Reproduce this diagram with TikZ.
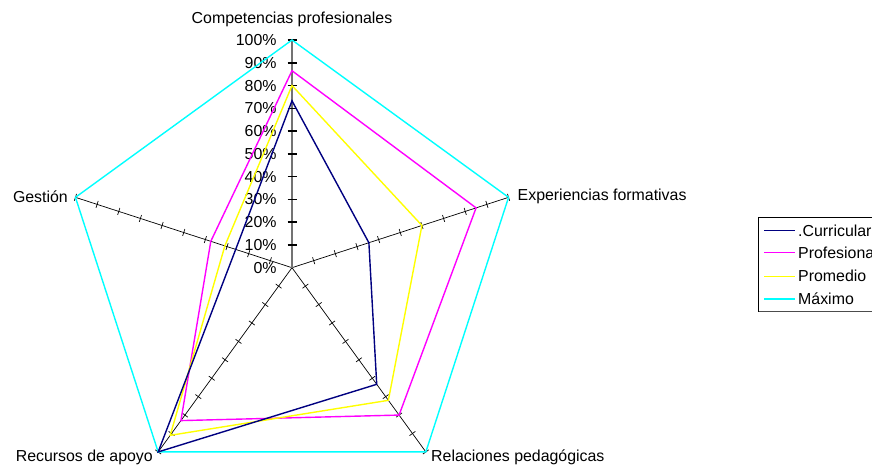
\documentclass[tikz,border=0pt]{standalone}
\usepackage{fontspec}
\setmainfont{Liberation Sans}
\definecolor{navyc}{RGB}{0,0,128}
\definecolor{magc}{RGB}{255,0,255}
\definecolor{yelc}{RGB}{255,255,0}
\definecolor{cyac}{RGB}{0,255,255}
\begin{document}
\begin{tikzpicture}[x=1pt,y=1pt,
  lbl/.style={font=\fontsize{15.9}{18}\selectfont, inner sep=0pt},
  axisline/.style={black, line width=0.7pt},
  mainaxis/.style={black!55, line width=1.4pt},
  maintick/.style={black, line width=1.6pt},
  serie/.style={line width=1.4pt, line join=miter},
]
\useasboundingbox (0,0) rectangle (872,464);
\clip (0,0) rectangle (872,464);
\def\R{227.7}
\coordinate (O) at (292,196.3);
% radial axes with ticks
\begin{scope}[shift={(O)}]
  \foreach \a in {18,-54,-126,162} {
    \draw[axisline] (0,0) -- (\a:\R);
    \foreach \i in {1,...,10} {
      \draw[axisline, rotate=\a] ({\i*\R/10},3.6) -- ({\i*\R/10},-3.6);
    }
  }
  \draw[mainaxis] (0,0) -- (90:\R);
  \foreach \i in {1,...,10} {
    \draw[maintick] (-4.5,{\i*\R/10}) -- (4.5,{\i*\R/10});
  }
  \foreach \i in {0,...,10} {
    \pgfmathtruncatemacro{\p}{\i*10}
    \node[lbl, anchor=east] (pct\i) at (-15.3,{\i*\R/10}) {\p\%};
  }
  % series
  \draw[serie, cyac] (90:\R) -- (18:\R) -- (-54:\R) -- (-126:\R) -- (162:\R) -- cycle;
  \draw[serie, magc] (90:{0.865*\R}) -- (18:{0.85*\R}) -- (-54:{0.80*\R}) -- (-126:{0.83*\R}) -- (162:{0.375*\R}) -- cycle;
  \draw[serie, yelc] (90:{0.80*\R}) -- (18:{0.60*\R}) -- (-54:{0.72*\R}) -- (-126:{0.91*\R}) -- (162:{0.31*\R}) -- cycle;
  \draw[serie, navyc] (90:{0.733*\R}) -- (18:{0.355*\R}) -- (-54:{0.633*\R}) -- (-126:\R) -- (162:{0.26*\R}) -- cycle;
\end{scope}
% axis labels
\node[lbl] (lcomp) at (292,445) {Competencias profesionales};
\node[lbl, anchor=west] (lexp) at (517.5,268) {Experiencias formativas};
\node[lbl, anchor=east] (lges) at (68,267) {Gestión};
\node[lbl, anchor=west] (lrel) at (431,7) {Relaciones pedagógicas};
\node[lbl, anchor=east] (lrec) at (153,7) {Recursos de apoyo};
% legend
\draw[black, line width=0.8pt] (758,153) rectangle (910,247);
\draw[black!70, line width=1.2pt] (759,152.2) -- (910,152.2);
\foreach \c/\t/\y/\n in {navyc/.Curricular/233.3/a, magc/Profesional/211.3/b, yelc/Promedio/187.8/c, cyac/Máximo/165/d} {
  \coordinate (la\n) at (764,\y);
  \coordinate (lb\n) at (795,\y);
  \draw[\c, line width=1.3pt] (la\n) -- (lb\n);
  \node[lbl, anchor=west] (lt\n) at (798,\y) {\t};
}
\end{tikzpicture}
\end{document}
